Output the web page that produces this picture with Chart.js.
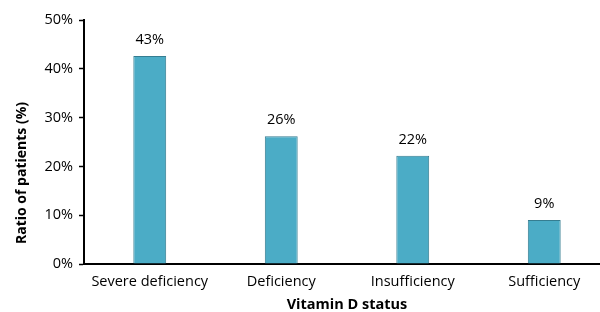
<!DOCTYPE html>
<html><head><meta charset="utf-8">
<script src="https://cdn.jsdelivr.net/npm/chart.js@4"></script>
<style>html,body{margin:0;padding:0;background:#fff;overflow:hidden;width:600px;height:312px}#w{width:612px;height:312px;position:relative}</style>
</head><body><div id="w"><canvas id="c" width="612" height="312"></canvas></div>
<script>
const categories = ["Severe deficiency", "Deficiency", "Insufficiency", "Sufficiency"];
const ratios = [42.6, 26.2, 22.2, 9.0];
const yTicks = [0, 10, 20, 30, 40, 50];
const yTitle = "Ratio of patients (%)";
const xTitle = "Vitamin D status";

const FONT = "'Open Sans', 'Liberation Sans', sans-serif";
const FS = 14.5;

const valueLabels = {
  id: 'valueLabels',
  afterDatasetsDraw(chart) {
    const ctx = chart.ctx;
    const meta = chart.getDatasetMeta(0);
    ctx.save();
    ctx.font = FS + "px " + FONT;
    ctx.fillStyle = "#000";
    ctx.textAlign = "center";
    ctx.textBaseline = "middle";
    meta.data.forEach((bar, i) => {
      ctx.fillText(Math.round(ratios[i]) + "%", bar.x, bar.y - 16);
    });
    ctx.restore();
  }
};

const yTitlePlugin = {
  id: 'yTitlePlugin',
  afterDraw(chart) {
    const ctx = chart.ctx;
    ctx.save();
    ctx.translate(22, 173);
    ctx.rotate(-Math.PI / 2);
    ctx.font = "bold 14px " + FONT;
    ctx.fillStyle = "#000";
    ctx.textAlign = "center";
    ctx.textBaseline = "middle";
    ctx.fillText(yTitle, 0, 0);
    ctx.restore();
  }
};

new Chart(document.getElementById('c'), {
  type: 'bar',
  data: {
    labels: categories,
    datasets: [{
      data: ratios,
      backgroundColor: '#4BACC6',
      borderColor: '#357D91',
      borderWidth: 1,
      barPercentage: 0.25,
      categoryPercentage: 1
    }]
  },
  options: {
    responsive: false,
    animation: false,
    layout: { padding: { top: 20, right: 2, left: 0, bottom: 0 } },
    plugins: { legend: { display: false }, tooltip: { enabled: false } },
    scales: {
      x: {
        grid: { display: false },
        border: { display: true, color: '#000', width: 2 },
        ticks: { color: '#000', font: { size: FS, family: FONT }, padding: 1, maxRotation: 0 },
        title: { display: true, text: xTitle, color: '#000', font: { size: FS, weight: 'bold', family: FONT, lineHeight: 1 }, padding: { top: 0, bottom: 0 } },
        afterFit: s => { s.height = 48; }
      },
      y: {
        min: 0, max: 50,
        afterBuildTicks: s => { s.ticks = yTicks.map(v => ({ value: v })); },
        grid: { display: true, drawOnChartArea: false, drawTicks: true, tickLength: 5, color: '#000', tickWidth: 1.5 },
        border: { display: true, color: '#000', width: 2 },
        ticks: { color: '#000', font: { size: FS, family: FONT }, padding: 6, callback: v => v + '%' },
        title: { display: false },
        afterFit: s => { s.width = 84; }
      }
    }
  },
  plugins: [valueLabels, yTitlePlugin]
});
</script></body></html>
